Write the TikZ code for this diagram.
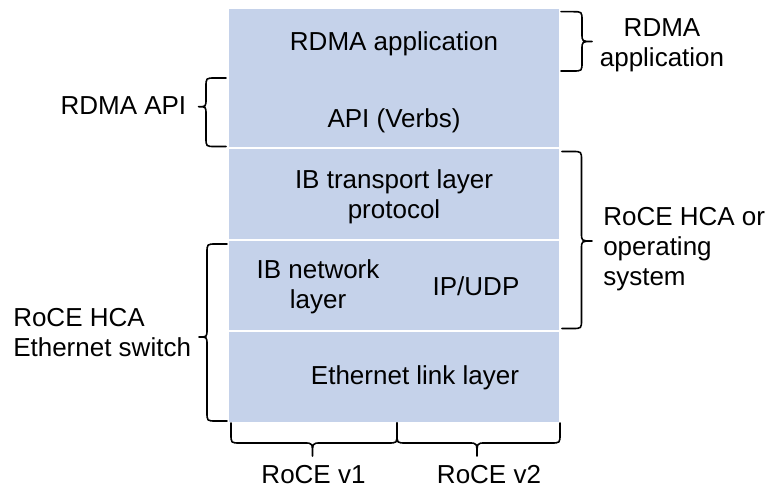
\documentclass[tikz,border=0pt]{standalone}
\usepackage{fontspec}
\setmainfont{Liberation Sans}
\definecolor{layerblue}{RGB}{197,210,234}

% Vertical curly brace: x of the open ends, top y, bottom y, y of the tip,
% offset of the spine, offset of the tip (negative offsets point left)
\newcommand\VBrace[6]{%
  \pgfmathsetmacro\brS{#5/abs(#5)}%
  \draw[bracestroke] (#1,#2) -- ({#1+#5-\brS*9},#2)
    .. controls ({#1+#5},#2) .. ({#1+#5},{#2+9})
    -- ({#1+#5},{#4-8})
    .. controls ({#1+#5},#4) .. ({#1+#6},#4)
    .. controls ({#1+#5},#4) .. ({#1+#5},{#4+8})
    -- ({#1+#5},{#3-9})
    .. controls ({#1+#5},#3) .. ({#1+#5-\brS*9},#3)
    -- (#1,#3);}

% Horizontal curly brace opening upwards: y of the open ends, left x,
% right x, x of the tip, offset of the spine, offset of the tip
\newcommand\HBrace[6]{%
  \draw[bracestroke] (#2,#1) -- (#2,{#1+#5-9})
    .. controls (#2,{#1+#5}) .. ({#2+9},{#1+#5})
    -- ({#4-8},{#1+#5})
    .. controls (#4,{#1+#5}) .. (#4,{#1+#6})
    .. controls (#4,{#1+#5}) .. ({#4+8},{#1+#5})
    -- ({#3-9},{#1+#5})
    .. controls (#3,{#1+#5}) .. (#3,{#1+#5-9})
    -- (#3,#1);}

\begin{document}
\begin{tikzpicture}[
  x=0.75pt, y=-0.75pt,
  layer/.style={fill=layerblue, draw=white, line width=1.2pt,
    minimum width=249pt, inner sep=0pt, outer sep=0pt},
  txt/.style={font=\fontsize{19.5}{22.5}\selectfont, inner sep=0pt,
    align=center, text=black},
  bracestroke/.style={draw=black, line width=1.2pt, line cap=round,
    line join=round}
]
\useasboundingbox (0,0) rectangle (770,488);

% protocol stack
\node[layer, minimum height=105pt]   (top)  at (394,78)    {};
\node[layer, minimum height=69pt]    (ibtl) at (394,194)   {};
\node[layer, minimum height=68.25pt] (net)  at (394,285.5) {};
\node[layer, minimum height=69pt]    (eth)  at (394,377)   {};

\node[txt, anchor=base]  (tApp)   at (394,50.7)  {RDMA application};
\node[txt, anchor=base]  (tApi)   at (394,128)   {API (Verbs)};
\node[txt, anchor=north] (tTrans) at (394,169.4) {IB transport layer\\protocol};
\node[txt, anchor=north] (tIBnet) at (318,259.4) {IB network\\layer};
\node[txt, anchor=base]  (tIPUDP) at (476,295)   {IP/UDP};
\node[txt, anchor=base]  (tEth)   at (415,384.3) {Ethernet link layer};

% side labels
\node[txt, anchor=north]       (lApp)  at (662,18.4)   {RDMA\\application};
\node[txt, anchor=base east]   (lApi)  at (186.5,114.5) {RDMA API};
\node[txt, anchor=north west, align=left] (lOS) at (603,207.4)
  {RoCE HCA or\\operating\\system};
\node[txt, anchor=north west, align=left] (lSw) at (13,308.1)
  {RoCE HCA\\Ethernet switch};
\node[txt, anchor=base] (lV1) at (313.5,483) {RoCE v1};
\node[txt, anchor=base] (lV2) at (489,483)   {RoCE v2};

% braces
\VBrace{561}{11.7}{71}{41.5}{21}{31}
\VBrace{226}{78}{146.5}{106.7}{-20}{-27.5}
\VBrace{562}{151.5}{328.5}{241}{19.5}{30}
\VBrace{227}{244}{421}{337}{-20}{-28}
\HBrace{423}{231}{397}{312.5}{20}{33}
\HBrace{423}{397}{560}{477}{20}{33}
\end{tikzpicture}
\end{document}
